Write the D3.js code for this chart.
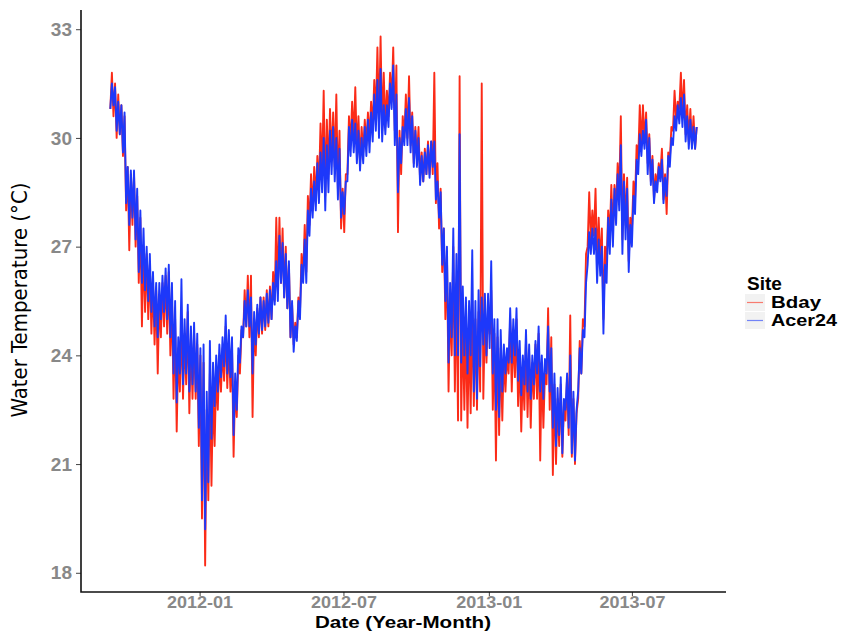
<!DOCTYPE html>
<html>
<head>
<meta charset="utf-8">
<script src="https://cdn.jsdelivr.net/npm/d3@7"></script>
<style>
  html, body { margin: 0; padding: 0; background: #fff; }
  svg { display: block; }
</style>
</head>
<body>
<svg id="chart" width="845" height="631"></svg>
<script>
// Logger readings: first reading and spacing (days) between consecutive readings.
const firstReading = "2011-09-10";
const readingStepDays = 2;

// Daily low / high water temperature pairs, Bday site (°C)
const bday = [
  30.8,31.8, 30.6,31.5, 30.0,31.2, 30.1,30.9, 29.5,30.6, 28.0,29.2, 26.9,29.0, 27.6,29.0,
  27.0,28.4, 26.0,27.8, 24.8,27.0, 25.2,26.8, 25.0,26.5, 24.6,26.0, 24.3,25.8, 23.5,25.6,
  24.5,26.0, 24.8,26.2, 24.6,26.3, 24.0,25.6, 22.8,25.0, 21.9,24.2, 23.0,25.0, 22.8,24.6,
  23.2,25.2, 22.4,24.5, 22.8,24.6, 22.8,24.3, 21.5,24.0, 19.5,23.8, 18.2,22.5, 20.0,23.5,
  20.4,23.0, 21.5,23.5, 22.5,24.0, 23.0,24.2, 23.3,24.8, 23.1,24.4, 23.0,24.2, 21.2,23.2,
  22.3,24.0, 23.5,24.7, 24.5,25.8, 24.8,26.2, 24.5,26.2, 22.3,25.0, 24.0,25.3, 24.5,25.6,
  24.6,25.6, 24.7,25.8, 24.8,25.9, 25.0,26.3, 25.5,27.8, 25.8,27.8, 26.0,27.5, 25.6,27.0,
  25.3,26.5, 24.5,25.4, 24.3,24.9, 24.5,25.6, 25.2,26.8, 26.2,27.6, 26.3,28.4, 27.6,29.0,
  28.0,29.2, 28.3,29.5, 28.6,30.4, 29.0,31.3, 28.4,30.5, 29.0,30.8, 29.4,30.7, 29.2,31.2,
  28.6,30.2, 27.5,28.6, 27.4,29.0, 29.0,30.6, 29.8,31.0, 30.0,31.4, 29.6,30.6, 29.3,30.3,
  29.6,30.5, 29.8,30.7, 30.0,31.0, 30.3,31.6, 30.6,32.5, 30.4,32.8, 30.2,31.8, 30.3,31.3,
  30.6,31.8, 31.0,32.5, 30.2,32.0, 27.4,30.2, 29.0,30.6, 30.0,31.2, 30.0,31.7, 29.8,30.7,
  29.3,30.3, 29.4,30.3, 28.8,29.6, 28.8,29.7, 29.0,29.9, 29.0,29.9, 29.0,31.8, 28.2,29.3,
  27.5,28.6, 26.3,27.5, 25.0,26.8, 23.0,25.5, 24.0,27.0, 23.0,26.0, 22.2,31.7, 22.2,25.0,
  22.5,25.0, 22.0,24.8, 22.4,25.5, 22.6,25.0, 22.5,25.2, 23.0,31.5, 22.8,25.0, 23.8,25.3,
  24.6,25.8, 22.5,24.6, 21.1,24.5, 21.8,24.2, 22.2,24.0, 23.0,24.0, 23.5,25.0, 23.0,24.6,
  23.4,25.0, 22.6,24.0, 21.9,23.6, 22.5,24.4, 22.3,24.0, 22.0,23.8, 22.8,24.3, 22.8,24.6,
  21.1,23.8, 22.0,23.5, 23.2,25.3, 22.5,24.5, 20.7,23.2, 21.0,22.8, 21.5,23.2, 21.2,22.6,
  22.2,23.4, 21.8,25.1, 21.2,22.8, 21.0,22.4, 22.8,24.4, 23.5,25.0, 24.8,26.8, 27.0,28.5,
  27.2,28.0, 27.3,28.6, 26.5,27.8, 26.5,27.5, 25.0,27.0, 26.5,28.0, 27.3,28.7, 27.4,28.7,
  28.0,29.3, 28.5,30.6, 27.2,29.0, 27.6,28.9, 26.6,27.8, 27.4,28.8, 28.3,29.8, 29.4,30.9,
  29.8,30.9, 29.9,30.7, 29.3,30.1, 28.8,29.5, 28.3,29.0, 28.7,29.3, 29.0,29.7, 28.3,29.0,
  27.9,29.6, 29.4,30.3, 30.2,31.3, 30.5,31.0, 30.8,31.8, 30.6,31.6, 30.1,30.9, 29.9,30.8,
  29.8,30.6, 29.7,30.3
];

// Daily low / high water temperature pairs, Acer24 site (°C)
const acer24 = [
  30.8,31.5, 30.9,31.4, 30.2,31.0, 30.1,30.9, 29.6,30.7, 28.2,29.2, 27.6,29.1, 27.8,29.1,
  27.2,28.6, 26.3,28.0, 26.0,27.5, 25.8,27.0, 25.5,26.8, 25.2,26.3, 24.8,26.0, 24.5,26.0,
  25.0,26.2, 25.2,26.4, 25.0,26.5, 24.5,26.0, 23.5,25.5, 22.7,24.5, 23.5,26.1, 23.2,25.0,
  23.5,25.4, 23.0,24.8, 23.2,24.9, 23.0,24.6, 22.0,24.2, 20.0,24.3, 19.2,23.0, 20.5,24.4,
  21.7,23.8, 22.6,24.0, 23.0,24.3, 23.4,24.5, 23.7,25.1, 23.5,24.7, 23.4,24.5, 21.8,23.5,
  22.5,24.2, 23.8,24.8, 24.5,25.5, 24.8,25.8, 24.8,25.6, 23.5,25.2, 24.3,25.4, 24.6,25.6,
  24.7,25.5, 24.8,25.7, 24.9,25.8, 25.0,26.0, 25.4,26.6, 25.5,27.3, 26.0,27.1, 25.6,26.8,
  25.3,26.6, 24.5,25.5, 24.1,24.8, 24.4,25.5, 25.0,26.5, 26.0,27.2, 26.0,28.0, 27.3,28.6,
  27.8,28.8, 28.0,29.3, 28.2,29.6, 28.5,30.0, 28.0,29.8, 28.5,30.2, 29.0,30.3, 28.8,30.0,
  28.3,29.7, 27.8,28.5, 27.9,28.8, 28.8,30.3, 29.5,30.5, 29.6,30.4, 29.3,30.2, 29.1,30.0,
  29.3,30.3, 29.5,30.5, 29.6,30.7, 29.9,31.2, 30.2,31.6, 30.0,31.9, 29.9,30.9, 30.1,30.9,
  30.3,31.5, 30.8,32.0, 29.8,31.2, 28.5,30.0, 29.3,30.3, 29.8,30.8, 29.8,31.1, 29.6,30.6,
  29.2,30.2, 29.2,30.0, 28.7,29.5, 28.8,29.6, 29.0,29.8, 28.9,29.9, 29.2,29.9, 28.3,28.8,
  27.8,28.5, 26.5,27.5, 25.5,27.0, 23.8,26.0, 24.5,27.5, 24.0,26.8, 24.0,30.1, 23.8,25.9,
  24.0,25.6, 23.5,25.5, 24.0,26.9, 23.0,25.5, 22.8,25.8, 23.7,25.6, 24.3,25.7, 24.0,25.7,
  24.2,26.6, 23.5,25.0, 22.5,25.0, 22.3,24.7, 23.0,24.3, 23.5,24.2, 23.8,25.3, 23.8,25.0,
  24.0,25.3, 23.3,24.4, 22.9,24.0, 23.2,24.7, 23.0,24.3, 22.8,24.0, 23.2,24.4, 23.5,24.8,
  23.0,24.0, 22.8,23.9, 23.5,24.8, 23.0,24.2, 22.0,23.5, 21.5,23.1, 21.8,23.4, 21.3,22.8,
  22.5,23.5, 22.0,24.0, 21.3,23.0, 21.1,22.5, 23.0,24.2, 23.5,24.7, 24.5,26.0, 26.5,27.4,
  26.8,27.5, 26.8,27.5, 26.0,27.2, 26.2,27.0, 24.6,26.5, 26.0,27.8, 26.8,28.3, 27.0,28.6,
  27.6,29.0, 28.0,29.8, 26.8,28.8, 27.2,28.6, 26.3,27.6, 27.0,28.4, 27.9,29.4, 29.0,30.1,
  29.5,30.2, 29.7,30.5, 29.0,30.0, 28.7,29.4, 28.2,28.8, 28.5,29.2, 28.8,29.4, 28.2,28.9,
  28.4,29.5, 29.2,30.0, 29.8,30.6, 30.2,30.9, 30.4,31.1, 30.3,31.2, 29.9,30.6, 29.7,30.5,
  29.7,30.3, 29.7,30.3
];

const sites = ["Bday", "Acer24"];
const siteColors = ["#fb2b18", "#1d38fa"];
const yTicks = [18, 21, 24, 27, 30, 33];
const xTickDates = ["2012-01-01", "2012-07-01", "2013-01-01", "2013-07-01"];

const parse = d3.timeParse("%Y-%m-%d");
const t0 = parse(firstReading);
const toRows = vals => vals.map((v, k) => ({ date: d3.timeDay.offset(t0, k * readingStepDays), temp: v }));
const series = [toRows(bday), toRows(acer24)];

const svg = d3.select("#chart");
const panel = { left: 81, right: 726, top: 10, bottom: 592 };

// Scales with 5% padding around the data range
const allRows = series.flat();
const [dMin, dMax] = d3.extent(allRows, d => d.date);
const dPad = (dMax - dMin) * 0.05;
const x = d3.scaleTime()
  .domain([new Date(+dMin - dPad), new Date(+dMax + dPad)])
  .range([panel.left, panel.right]);
const [tMin, tMax] = d3.extent(allRows, d => d.temp);
const tPad = (tMax - tMin) * 0.05;
const y = d3.scaleLinear()
  .domain([tMin - tPad, tMax + tPad])
  .range([panel.bottom, panel.top]);

// Temperature traces
const line = d3.line().x(d => x(d.date)).y(d => y(d.temp));
svg.append("g").selectAll("path")
  .data(series)
  .join("path")
  .attr("d", line)
  .attr("fill", "none")
  .attr("stroke", (d, i) => siteColors[i])
  .attr("stroke-width", 1.9)
  .attr("stroke-linejoin", "round");

// Axes
const tickFont = "'Liberation Sans', Arial, sans-serif";
const yAxis = d3.axisLeft(y).tickValues(yTicks).tickSize(5).tickPadding(4).tickSizeOuter(0);
const gy = svg.append("g").attr("transform", `translate(${panel.left},0)`).call(yAxis);
gy.select(".domain").remove();
gy.selectAll(".tick line").attr("stroke", "#444").attr("stroke-width", 1);
gy.selectAll(".tick text")
  .attr("font-family", tickFont).attr("font-weight", "bold").attr("font-size", 19)
  .attr("fill", "#888");

const xAxis = d3.axisBottom(x).tickValues(xTickDates.map(parse))
  .tickFormat(d3.timeFormat("%Y-%m")).tickSize(4).tickPadding(0).tickSizeOuter(0);
const gx = svg.append("g").attr("transform", `translate(0,${panel.bottom})`).call(xAxis);
gx.select(".domain").remove();
gx.selectAll(".tick line").attr("stroke", "#444").attr("stroke-width", 1);
gx.selectAll(".tick text")
  .attr("font-family", tickFont).attr("font-weight", "bold").attr("font-size", 17)
  .attr("textLength", 66).attr("lengthAdjust", "spacingAndGlyphs")
  .attr("fill", "#888");

// L-shaped axis frame
svg.append("path")
  .attr("d", `M${panel.left},${panel.top}V${panel.bottom}H${panel.right}`)
  .attr("fill", "none").attr("stroke", "#111").attr("stroke-width", 1.6);

// Axis titles
svg.append("text")
  .attr("x", 403).attr("y", 627.5)
  .attr("text-anchor", "middle")
  .attr("font-family", tickFont).attr("font-weight", "bold").attr("font-size", 16)
  .attr("textLength", 176).attr("lengthAdjust", "spacingAndGlyphs")
  .attr("fill", "#000")
  .text("Date (Year-Month)");

svg.append("text")
  .attr("transform", "translate(27,300) rotate(-90)")
  .attr("text-anchor", "middle")
  .attr("font-family", "'Liberation Sans Narrow', 'DejaVu Sans Condensed', sans-serif")
  .attr("font-size", 22)
  .attr("fill", "#000")
  .text("Water Temperature (°C)");

// Legend
const legend = svg.append("g").attr("transform", "translate(745,0)");
legend.append("text")
  .attr("x", 2).attr("y", 290)
  .attr("font-family", tickFont).attr("font-weight", "bold").attr("font-size", 19)
  .text("Site");
const keys = legend.selectAll("g.key").data(sites).join("g")
  .attr("class", "key")
  .attr("transform", (d, i) => `translate(0,${294 + i * 18})`);
keys.append("rect").attr("width", 20).attr("height", 17).attr("fill", "#f2f2f2");
keys.append("line")
  .attr("x1", 2).attr("x2", 18).attr("y1", 8.5).attr("y2", 8.5)
  .attr("stroke", (d, i) => siteColors[i]).attr("stroke-width", 1.2).attr("stroke-opacity", 0.6);
keys.append("text")
  .attr("x", 26).attr("y", 14)
  .attr("font-family", tickFont).attr("font-weight", "bold").attr("font-size", 16)
  .attr("textLength", d => d === "Bday" ? 50 : 66).attr("lengthAdjust", "spacingAndGlyphs")
  .text(d => d);
</script>
</body>
</html>
